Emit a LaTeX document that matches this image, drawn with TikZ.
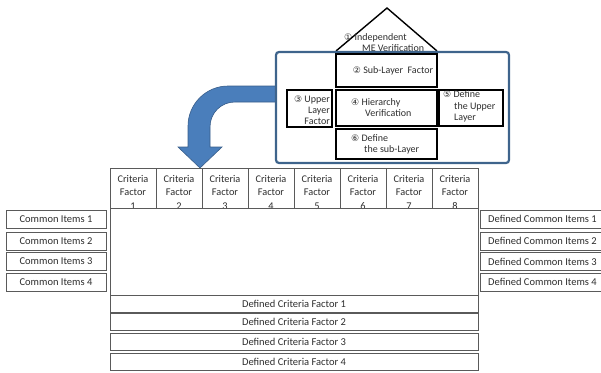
\documentclass[tikz,border=0pt]{standalone}
\usepackage{fontspec}
\setmainfont{Carlito}
\newfontfamily\symfont{DejaVu Sans}
\newcommand{\cnum}[1]{{\symfont\fontsize{9}{9}\selectfont #1}}
\definecolor{tableline}{RGB}{90,90,90}
\definecolor{textgray}{RGB}{45,45,45}
\definecolor{frameblue}{RGB}{62,100,140}
\definecolor{arrowfill}{RGB}{74,126,187}
\definecolor{arrowedge}{RGB}{56,93,138}
\begin{document}
\begin{tikzpicture}[x=1pt,y=-1pt,
  cell/.style={draw=tableline,line width=0.9pt,rectangle,inner sep=0pt,
    text=textgray,font=\fontsize{10.5}{12}\selectfont},
  facttext/.style={align=center,inner sep=0pt,text=textgray,
    font=\fontsize{10.3}{13.5}\selectfont},
  hbox/.style={draw=black,line width=1.8pt,rectangle,inner sep=0pt},
  htext/.style={inner sep=0pt,text=textgray,font=\fontsize{10}{11.2}\selectfont}]
\useasboundingbox (0,0) rectangle (601,372);

% bent arrow into the criteria row
\filldraw[fill=arrowfill,draw=arrowedge,line width=0.6pt]
  (276,86) -- (228,86) .. controls (206,86) and (188,104) .. (188,126)
  -- (188,147) -- (178,147) -- (200,168) -- (222,147) -- (210,147) -- (210,127)
  .. controls (210,113) and (221,102) .. (235,102) -- (276,102) -- cycle;

% house roof
\draw[line width=1.4pt,line join=miter] (336,51) -- (387,8) -- (437,51);
\node[htext,anchor=west] (roof1) at (344,38) {\cnum{①} Independent};
\node[htext,anchor=west] (roof2) at (362,48.5) {ME Verification};

% outer frame
\node[draw=frameblue,line width=2.2pt,rounded corners=3pt,rectangle,
  minimum width=233,minimum height=111,inner sep=0pt] (frame) at (392.5,107.5) {};

% house boxes
\node[hbox,minimum width=101,minimum height=33] (sub) at (386.5,70.5) {};
\node[htext] (subt) at (393,71) {\cnum{②} Sub-Layer\ \ Factor};
\node[hbox,minimum width=101,minimum height=36] (hier) at (386.5,108) {};
\node[htext,anchor=west,align=left] (hiert) at (351,107.5) {\cnum{④} Hierarchy\\\hspace{14pt}Verification};
\node[hbox,minimum width=101,minimum height=30] (defsub) at (386.5,144) {};
\node[htext,anchor=west,align=left] (defsubt) at (351,144) {\cnum{⑥} Define\\\hspace{13pt}the sub-Layer};
\node[hbox,minimum width=45,minimum height=37] (upper) at (309.5,108.5) {};
\node[htext,anchor=east,align=right] (uppert) at (330,110) {\cnum{③} Upper\\Layer\\Factor};
\node[hbox,minimum width=64,minimum height=36] (defup) at (471,108) {};
\node[htext,anchor=west,align=left] (defupt) at (443,106.5) {\cnum{⑤} Define\\\hspace{11pt}the Upper\\\hspace{11pt}Layer};

% criteria factor header row
\foreach \i in {1,...,8}{
  \pgfmathsetmacro{\cx}{133+46*(\i-1)}
  \node[cell,minimum width=46,minimum height=40] (cf\i) at (\cx,188) {};
  \node[facttext] (cft\i) at (\cx,192) {Criteria\\Factor\\\i};
}

% central grid area
\node[cell,minimum width=368,minimum height=87] (grid) at (294,251.5) {};

% common items on the left and defined common items on the right
\foreach \i/\y in {1/219,2/241,3/261.5,4/282}{
  \node[cell,minimum width=100,minimum height=18] (ci\i) at (56,\y) {Common Items \i};
  \node[cell,minimum width=125,minimum height=18] (dci\i) at (542.5,\y) {Defined Common Items \i};
}

% defined criteria factor rows
\foreach \i/\y in {1/303.5,2/322,3/341.5,4/361.5}{
  \node[cell,minimum width=368,minimum height=17] (dcf\i) at (294,\y) {Defined Criteria Factor \i};
}
\end{tikzpicture}
\end{document}
